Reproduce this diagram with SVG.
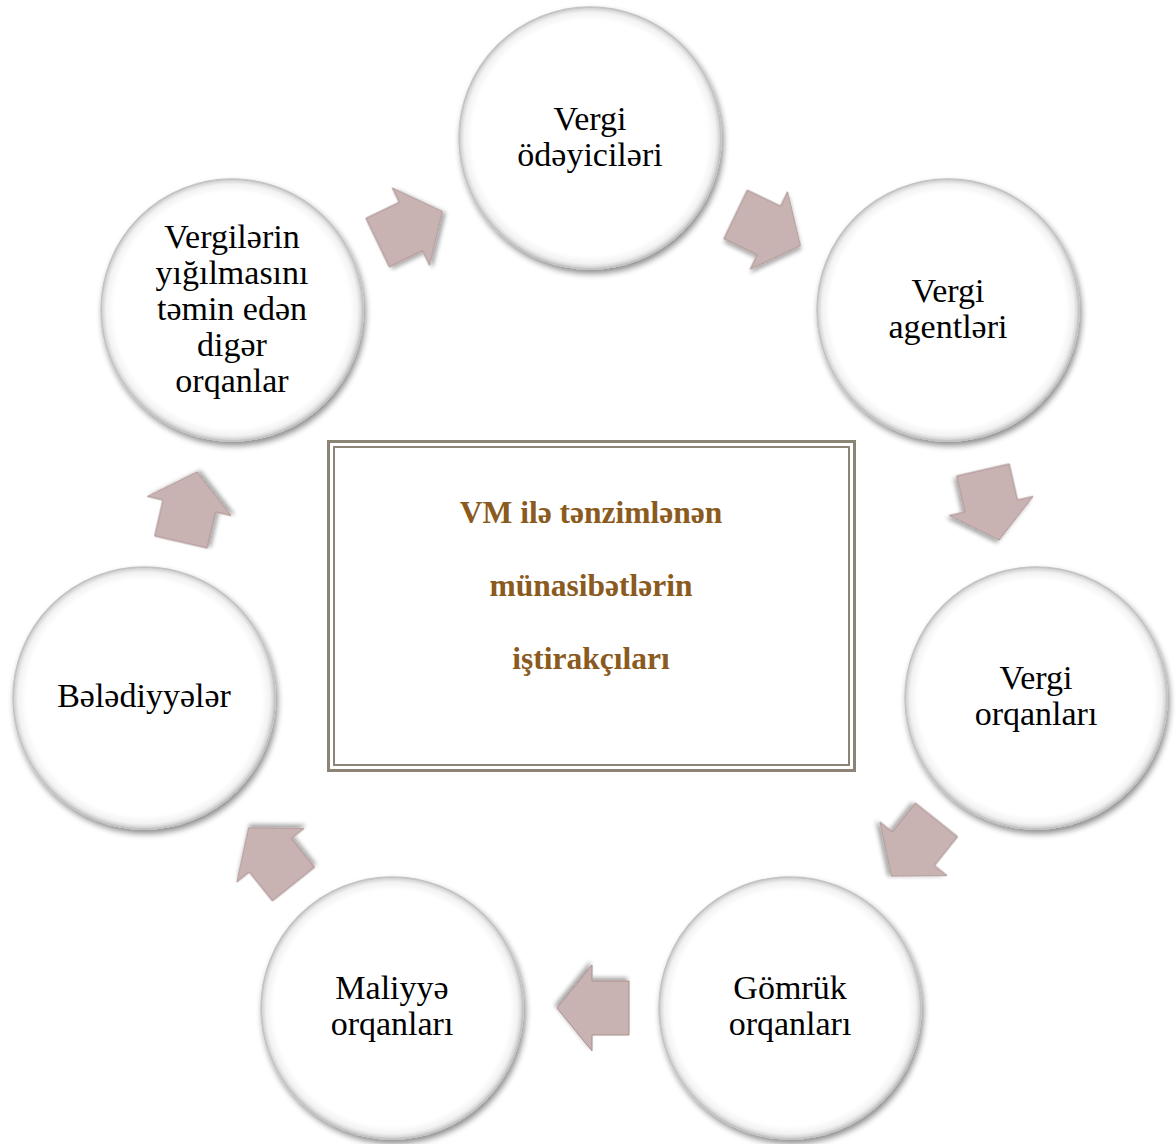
<svg xmlns="http://www.w3.org/2000/svg" width="1176" height="1144" viewBox="0 0 1176 1144">
<defs>
<radialGradient id="cg" cx="0.5" cy="0.5" r="0.5">
<stop offset="0" stop-color="#ffffff"/>
<stop offset="0.9" stop-color="#ffffff"/>
<stop offset="0.96" stop-color="#f2f2f2"/>
<stop offset="0.99" stop-color="#d4d4d4"/>
<stop offset="1" stop-color="#b8b8b8"/>
</radialGradient>
<filter id="cs" x="-20%" y="-20%" width="140%" height="140%">
<feGaussianBlur in="SourceAlpha" stdDeviation="3"/>
<feOffset dx="2" dy="4" result="b"/>
<feComponentTransfer><feFuncA type="linear" slope="0.45"/></feComponentTransfer>
<feMerge><feMergeNode/><feMergeNode in="SourceGraphic"/></feMerge>
</filter>
<filter id="as" x="-30%" y="-30%" width="160%" height="160%">
<feGaussianBlur in="SourceAlpha" stdDeviation="2"/>
<feOffset dx="2" dy="3" result="b"/>
<feComponentTransfer><feFuncA type="linear" slope="0.35"/></feComponentTransfer>
<feMerge><feMergeNode/><feMergeNode in="SourceGraphic"/></feMerge>
</filter>
<polygon id="arr" points="-36,-27 1,-27 1,-43 36,0 1,43 1,27 -36,27"/>
</defs>
<style>
.c{fill:url(#cg);stroke:#c4c4c4;stroke-width:1.5;filter:url(#cs)}
.t{font-family:"Liberation Serif","Times New Roman",serif;font-size:34px;fill:#000;text-anchor:middle}
.m{font-family:"Liberation Serif","Times New Roman",serif;font-size:31.5px;font-weight:bold;fill:#8a5a1e;text-anchor:middle}
.a{fill:#c9b2b2;stroke:#a99090;stroke-width:1;filter:url(#as)}
</style>
<rect width="1176" height="1144" fill="#ffffff"/>
<g id="connectors">
<use href="#arr" class="a" transform="translate(768,230) rotate(25.7)"/>
<use href="#arr" class="a" transform="translate(991,505) rotate(77.1)"/>
<use href="#arr" class="a" transform="translate(914,848) rotate(128.6)"/>
<use href="#arr" class="a" transform="translate(593,1008) rotate(180)"/>
<use href="#arr" class="a" transform="translate(271,856) rotate(231.4)"/>
<use href="#arr" class="a" transform="translate(189,507) rotate(282.9)"/>
<use href="#arr" class="a" transform="translate(410,227) rotate(334.3)"/>
</g>
<g id="center">
<rect x="328.5" y="441.5" width="526" height="329" fill="#ffffff" stroke="#8c8474" stroke-width="3"/>
<rect x="334" y="447" width="515" height="318" fill="none" stroke="#8c8474" stroke-width="2"/>
<text class="m" x="591" y="523">VM ilə tənzimlənən</text>
<text class="m" x="591" y="596">münasibətlərin</text>
<text class="m" x="591" y="669">iştirakçıları</text>
</g>
<g id="n1">
<circle class="c" cx="590" cy="138" r="131"/>
<text class="t" x="590" y="130">Vergi</text>
<text class="t" x="590" y="166">ödəyiciləri</text>
</g>
<g id="n2">
<circle class="c" cx="948" cy="310" r="131"/>
<text class="t" x="948" y="302">Vergi</text>
<text class="t" x="948" y="338">agentləri</text>
</g>
<g id="n3">
<circle class="c" cx="1036" cy="698" r="131"/>
<text class="t" x="1036" y="689">Vergi</text>
<text class="t" x="1036" y="725">orqanları</text>
</g>
<g id="n4">
<circle class="c" cx="790" cy="1008" r="131"/>
<text class="t" x="790" y="999">Gömrük</text>
<text class="t" x="790" y="1035">orqanları</text>
</g>
<g id="n5">
<circle class="c" cx="392" cy="1008" r="131"/>
<text class="t" x="392" y="999">Maliyyə</text>
<text class="t" x="392" y="1035">orqanları</text>
</g>
<g id="n6">
<circle class="c" cx="144" cy="698" r="131"/>
<text class="t" x="144" y="707">Bələdiyyələr</text>
</g>
<g id="n7">
<circle class="c" cx="232" cy="310" r="131"/>
<text class="t" x="232" y="248">Vergilərin</text>
<text class="t" x="232" y="284">yığılmasını</text>
<text class="t" x="232" y="320">təmin edən</text>
<text class="t" x="232" y="356">digər</text>
<text class="t" x="232" y="392">orqanlar</text>
</g>
</svg>
